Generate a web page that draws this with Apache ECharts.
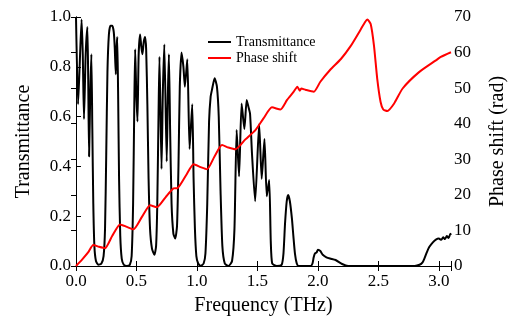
<!DOCTYPE html>
<html>
<head>
<meta charset="utf-8">
<script src="https://cdn.jsdelivr.net/npm/echarts@6/dist/echarts.min.js"></script>
<style>
  html, body { margin: 0; padding: 0; background: #fff; }
  #chart { width: 509px; height: 321px; }
</style>
</head>
<body>
<div id="chart"></div>
<script>
// frequency (THz), transmittance
var transmittance = [
  [0.000, 1.00], [0.017, 0.65], [0.030, 0.80], [0.046, 0.99], [0.056, 0.85],
  [0.066, 0.59], [0.080, 0.85], [0.094, 0.96], [0.101, 0.75], [0.108, 0.44],
  [0.118, 0.70], [0.127, 0.85], [0.135, 0.55], [0.143, 0.25], [0.152, 0.08],
  [0.165, 0.02], [0.185, 0.005], [0.210, 0.01], [0.228, 0.04], [0.240, 0.15],
  [0.250, 0.45], [0.260, 0.78], [0.272, 0.93], [0.285, 0.965], [0.300, 0.965],
  [0.312, 0.94], [0.320, 0.88], [0.329, 0.77], [0.336, 0.88], [0.341, 0.92],
  [0.348, 0.70], [0.356, 0.35], [0.366, 0.12], [0.378, 0.03], [0.395, 0.005],
  [0.420, 0.0], [0.445, 0.005], [0.460, 0.04], [0.472, 0.25], [0.482, 0.65],
  [0.489, 0.87], [0.498, 0.70], [0.508, 0.58], [0.518, 0.85], [0.530, 0.93],
  [0.540, 0.88], [0.549, 0.85], [0.560, 0.90], [0.571, 0.92], [0.580, 0.87],
  [0.590, 0.65], [0.600, 0.35], [0.612, 0.15], [0.628, 0.07], [0.648, 0.045],
  [0.662, 0.08], [0.672, 0.25], [0.682, 0.60], [0.690, 0.84], [0.707, 0.39],
  [0.718, 0.70], [0.730, 0.89], [0.750, 0.42], [0.760, 0.70], [0.768, 0.85],
  [0.778, 0.55], [0.790, 0.25], [0.805, 0.13], [0.820, 0.11], [0.835, 0.16],
  [0.847, 0.40], [0.858, 0.72], [0.872, 0.857], [0.888, 0.80], [0.900, 0.72],
  [0.920, 0.83], [0.939, 0.47], [0.961, 0.65], [0.972, 0.35], [0.983, 0.15],
  [0.995, 0.04], [1.010, 0.01], [1.030, 0.0], [1.055, 0.01], [1.070, 0.05],
  [1.085, 0.25], [1.100, 0.58], [1.113, 0.68], [1.125, 0.71], [1.146, 0.754],
  [1.165, 0.72], [1.180, 0.60], [1.195, 0.30], [1.210, 0.08], [1.230, 0.01],
  [1.260, 0.0], [1.290, 0.02], [1.310, 0.15], [1.328, 0.546], [1.348, 0.36],
  [1.369, 0.653], [1.392, 0.55], [1.411, 0.667], [1.425, 0.64], [1.439, 0.61],
  [1.455, 0.45], [1.481, 0.26], [1.514, 0.57], [1.535, 0.35], [1.558, 0.51],
  [1.577, 0.28], [1.597, 0.345], [1.610, 0.10], [1.622, 0.01], [1.660, 0.0],
  [1.700, 0.005], [1.715, 0.05], [1.728, 0.17], [1.742, 0.26], [1.754, 0.285],
  [1.768, 0.26], [1.785, 0.19], [1.797, 0.12], [1.810, 0.05], [1.825, 0.01],
  [1.840, 0.0], [1.940, 0.0], [1.955, 0.01], [1.965, 0.035], [1.975, 0.05],
  [1.990, 0.055], [2.000, 0.065], [2.020, 0.06], [2.040, 0.045], [2.070, 0.035],
  [2.100, 0.03], [2.146, 0.024], [2.200, 0.008], [2.250, 0.0], [2.800, 0.0],
  [2.840, 0.005], [2.865, 0.015], [2.880, 0.03], [2.900, 0.055], [2.920, 0.076],
  [2.950, 0.095], [2.975, 0.106], [3.000, 0.11], [3.020, 0.105], [3.035, 0.115],
  [3.050, 0.108], [3.065, 0.12], [3.080, 0.112], [3.095, 0.13], [3.100, 0.125]
];

// frequency (THz), phase shift (rad)
var phaseShift = [
  [0.000, 0.0], [0.050, 1.8], [0.100, 3.8], [0.143, 5.9], [0.190, 5.4],
  [0.240, 5.0], [0.300, 8.5], [0.365, 11.7], [0.420, 11.0], [0.475, 10.3],
  [0.545, 13.8], [0.613, 17.1], [0.668, 16.5], [0.740, 19.3], [0.806, 21.8],
  [0.840, 21.9], [0.910, 25.5], [0.972, 28.6], [1.030, 27.8], [1.083, 27.2],
  [1.145, 30.8], [1.207, 34.0], [1.260, 33.3], [1.317, 32.8], [1.400, 35.6],
  [1.483, 38.2], [1.550, 41.5], [1.620, 44.6], [1.690, 44.0], [1.745, 46.7],
  [1.800, 49.0], [1.830, 50.4], [1.850, 49.3], [1.862, 49.9], [1.900, 49.5],
  [1.966, 49.0], [2.020, 51.8], [2.100, 55.1], [2.190, 58.2], [2.270, 61.8],
  [2.350, 66.3], [2.390, 68.6], [2.408, 69.3], [2.436, 68.0], [2.463, 62.0],
  [2.490, 52.7], [2.518, 46.1], [2.540, 44.0], [2.574, 43.6], [2.630, 45.7],
  [2.700, 49.9], [2.836, 54.5], [2.975, 57.8], [3.016, 58.8], [3.100, 60.1]
];

var xTicks = { min: 0, max: 3.1, interval: 0.5 };
var leftTicks = { min: 0, max: 1, interval: 0.2 };
var rightTicks = { min: 0, max: 70, interval: 10 };

var font = "'Liberation Serif', 'DejaVu Serif', serif";
var chart = echarts.init(document.getElementById('chart'));

var axisLine = { show: true, lineStyle: { color: '#000', width: 1 } };
var axisTick = { show: true, inside: true, length: 5, lineStyle: { color: '#000', width: 1 } };

var option = {
  animation: false,
  backgroundColor: '#fff',
  textStyle: { fontFamily: font, color: '#000' },
  grid: { left: 76, right: 58, top: 17, bottom: 55, outerBoundsMode: 'none', containLabel: false },
  legend: {
    orient: 'vertical',
    left: 203,
    top: 30,
    icon: 'rect',
    itemWidth: 23,
    itemHeight: 2,
    itemGap: 2,
    textStyle: { fontFamily: font, fontSize: 14, color: '#000' },
    data: ['Transmittance', 'Phase shift']
  },
  xAxis: [{
    type: 'value',
    min: xTicks.min, max: xTicks.max, interval: xTicks.interval,
    name: 'Frequency (THz)',
    nameLocation: 'middle',
    nameGap: 30,
    nameTextStyle: { fontFamily: font, fontSize: 20, color: '#000' },
    axisLine: axisLine,
    axisTick: axisTick,
    splitLine: { show: false },
    axisLabel: {
      margin: 7, fontFamily: font, fontSize: 17, color: '#000',
      formatter: function (v) {
        return Math.abs(v / 0.5 - Math.round(v / 0.5)) < 1e-6 ? v.toFixed(1) : '';
      }
    }
  }, {
    type: 'value',
    position: 'top',
    min: xTicks.min, max: xTicks.max, interval: xTicks.interval,
    axisLine: axisLine,
    axisTick: axisTick,
    axisLabel: { show: false },
    splitLine: { show: false }
  }],
  yAxis: [{
    type: 'value',
    min: leftTicks.min, max: leftTicks.max, interval: leftTicks.interval,
    name: 'Transmittance',
    nameLocation: 'middle',
    nameGap: 42,
    nameTextStyle: { fontFamily: font, fontSize: 20, color: '#000' },
    axisLine: axisLine,
    axisTick: axisTick,
    splitLine: { show: false },
    axisLabel: {
      margin: 5, fontFamily: font, fontSize: 17, color: '#000',
      formatter: function (v) { return v.toFixed(1); }
    }
  }, {
    type: 'value',
    position: 'right',
    min: rightTicks.min, max: rightTicks.max, interval: rightTicks.interval,
    name: 'Phase shift (rad)',
    nameLocation: 'middle',
    nameGap: 37,
    nameRotate: 90,
    nameTextStyle: { fontFamily: font, fontSize: 20, color: '#000' },
    axisLine: axisLine,
    axisTick: axisTick,
    splitLine: { show: false },
    axisLabel: { margin: 3, fontFamily: font, fontSize: 17, color: '#000' }
  }],
  series: [{
    name: 'Transmittance',
    type: 'line',
    xAxisIndex: 0,
    yAxisIndex: 0,
    symbol: 'none',
    smooth: 0.2,
    clip: true,
    lineStyle: { color: '#000', width: 2 },
    itemStyle: { color: '#000' },
    data: transmittance
  }, {
    name: 'Phase shift',
    type: 'line',
    xAxisIndex: 0,
    yAxisIndex: 1,
    symbol: 'none',
    smooth: 0.2,
    clip: true,
    lineStyle: { color: '#ff0000', width: 2 },
    itemStyle: { color: '#ff0000' },
    data: phaseShift
  }]
};

chart.setOption(option);
</script>
</body>
</html>
